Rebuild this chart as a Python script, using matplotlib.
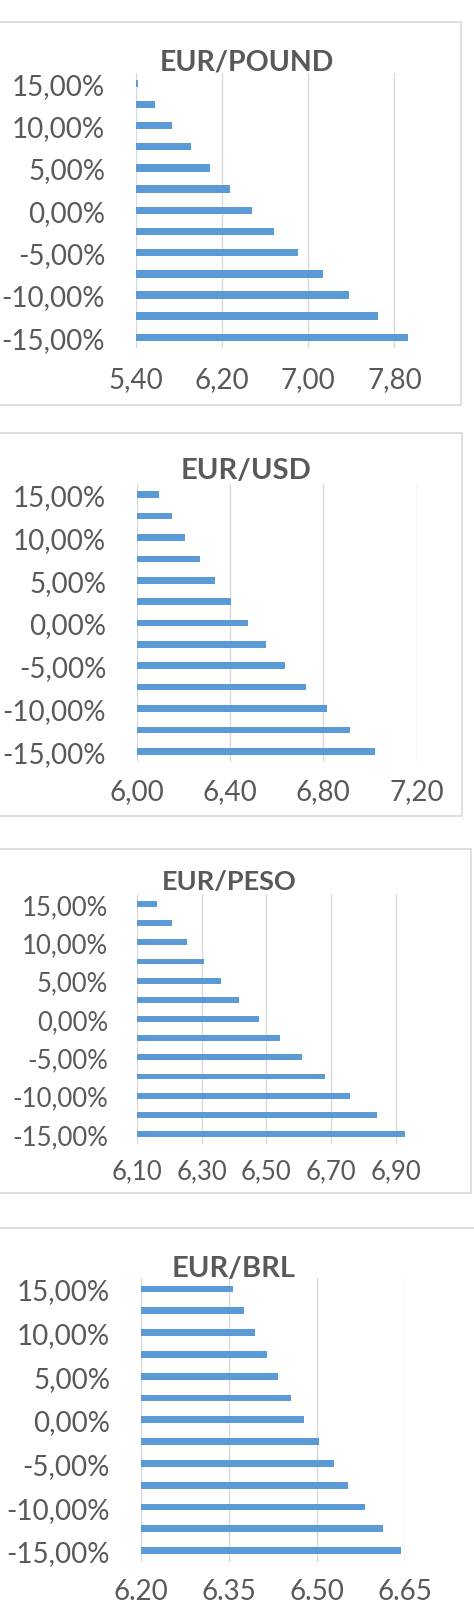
import matplotlib.pyplot as plt
from matplotlib.patches import Rectangle
import numpy as np

plt.rcParams['font.family'] = ['Lato', 'DejaVu Sans']

W, H = 474, 1608
BLUE = '#5B9BD5'
TEXT = '#595959'
GRID = '#D9D9D9'

# scenarios, bottom to top
scenarios = ['-15,00%', '-12,50%', '-10,00%', '-7,50%', '-5,00%', '-2,50%', '0,00%',
             '2,50%', '5,00%', '7,50%', '10,00%', '12,50%', '15,00%']

eur_pound = [7.927, 7.648, 7.379, 7.135, 6.903, 6.680, 6.476, 6.275, 6.090, 5.913, 5.740, 5.579, 5.425]
eur_usd = [7.021, 6.916, 6.817, 6.726, 6.637, 6.556, 6.479, 6.406, 6.336, 6.271, 6.209, 6.150, 6.094]
eur_peso = [6.929, 6.840, 6.759, 6.682, 6.610, 6.542, 6.477, 6.417, 6.360, 6.307, 6.255, 6.208, 6.162]
eur_brl = [6.643, 6.612, 6.582, 6.553, 6.528, 6.503, 6.478, 6.456, 6.434, 6.414, 6.394, 6.375, 6.357]

pound_ticks = [5.40, 6.20, 7.00, 7.80]
pound_labels = ['5,40', '6,20', '7,00', '7,80']
usd_ticks = [6.00, 6.40, 6.80, 7.20]
usd_labels = ['6,00', '6,40', '6,80', '7,20']
peso_ticks = [6.10, 6.30, 6.50, 6.70, 6.90]
peso_labels = ['6,10', '6,30', '6,50', '6,70', '6,90']
brl_ticks = [6.20, 6.35, 6.50, 6.65]
brl_labels = ['6.20', '6.35', '6.50', '6.65']

fig = plt.figure(figsize=(W / 100, H / 100), dpi=100)


def fx(x):
    return x / W


def fy(y):
    return 1 - y / H


def panel(title, values, ticks, labels, xlim, box, ax_px, title_pos, fs, tfs, bar_h, ypad, xpad):
    # chart area border
    bl, bt, br, bb = box
    fig.patches.append(Rectangle((fx(bl), fy(bb)), fx(br - bl), (bb - bt) / H,
                                 transform=fig.transFigure, fill=False,
                                 edgecolor=GRID, linewidth=1.2))
    l, r, t, b = ax_px
    ax = fig.add_axes([fx(l), fy(b), fx(r - l), (b - t) / H])
    y = np.arange(len(values))
    ax.barh(y, values, height=bar_h, color=BLUE, zorder=2)
    ax.set_xlim(*xlim)
    ax.set_ylim(-0.5, len(values) - 0.5)
    ax.set_xticks(ticks)
    ax.set_xticklabels(labels)
    ax.set_yticks(y[::2])
    ax.set_yticklabels(scenarios[::2])
    ax.grid(axis='x', color=GRID, linewidth=1.0, zorder=0)
    for s in ax.spines.values():
        s.set_visible(False)
    ax.tick_params(length=0, colors=TEXT, labelsize=fs)
    ax.tick_params(axis='y', pad=ypad)
    ax.tick_params(axis='x', pad=xpad)
    fig.text(fx(title_pos[0]), fy(title_pos[1]), title, ha='center', va='baseline',
             fontsize=tfs, fontweight='bold', color=TEXT)
    return ax


panel('EUR/POUND', eur_pound, pound_ticks, pound_labels, (5.40, 8.00),
      (-5, 23, 461, 406), (135.7, 416.0, 73.7, 348.9), (247, 70.7), 20, 20.5, 0.35, 22, 13.4)
panel('EUR/USD', eur_usd, usd_ticks, usd_labels, (6.00, 7.20),
      (-5, 434, 462, 817), (136.7, 416.7, 485.0, 763.0), (246, 479.3), 20, 21, 0.31, 22, 11.2)
panel('EUR/PESO', eur_peso, peso_ticks, peso_labels, (6.10, 7.00),
      (-5, 850, 470.5, 1194), (136.7, 428.5, 895.4, 1144.6), (229, 890), 18.5, 19.5, 0.31, 20.6, 10.4)
panel('EUR/BRL', eur_brl, brl_ticks, brl_labels, (6.20, 6.65),
      (-5, 1229, 480, 1700), (141.0, 405.3, 1279.0, 1562.6), (234, 1276.7), 20, 21, 0.31, 22.3, 11.5)

fig.savefig('out.png', dpi=100)
